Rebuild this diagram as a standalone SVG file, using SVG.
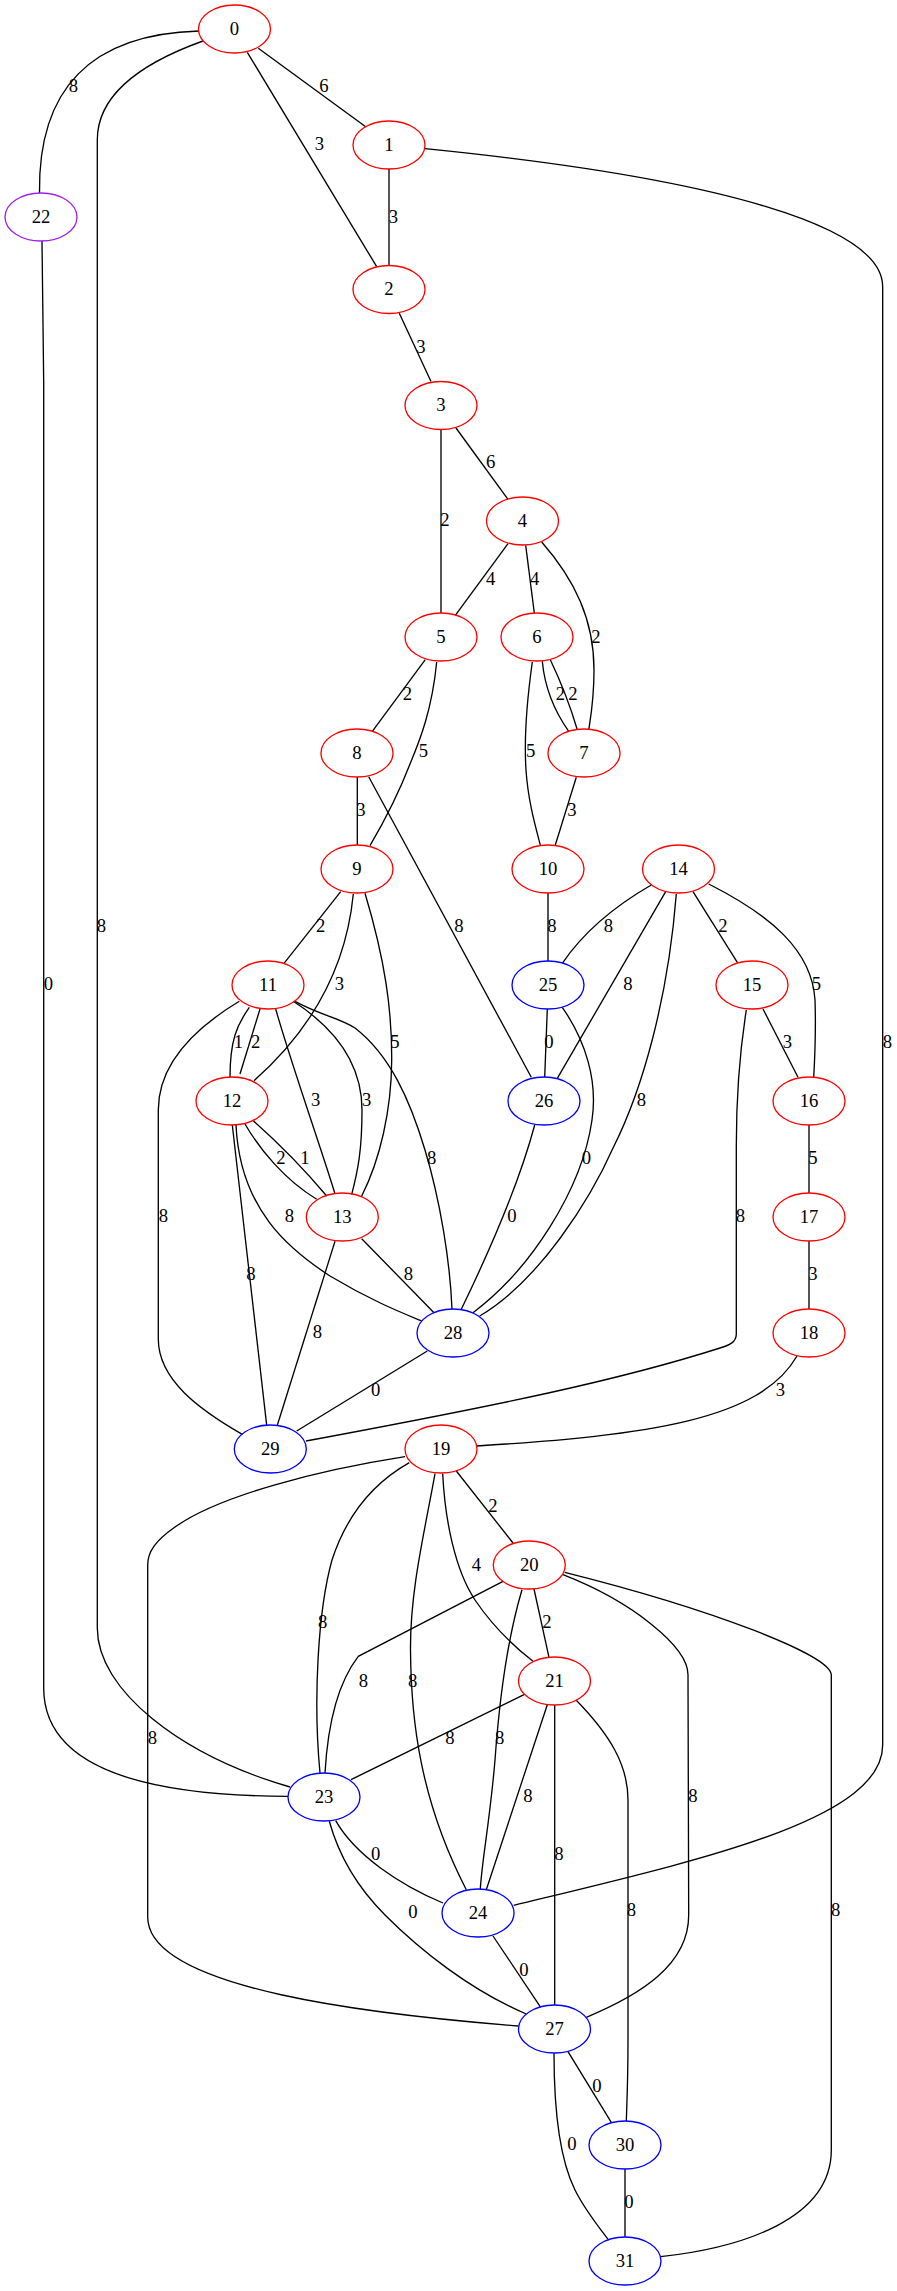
<svg xmlns="http://www.w3.org/2000/svg" width="897" height="2291" viewBox="0 0 897 2291">
<style>
  .node ellipse { fill: none; stroke-width: 1.33; }
  .red ellipse { stroke: #ff0000; }
  .blue ellipse { stroke: #0000ff; }
  .purple ellipse { stroke: #a020f0; }
  text { font-family: "Liberation Serif", "Times New Roman", serif; font-size: 18.67px; text-anchor: middle; fill: #000; }
  #edges path { fill: none; stroke: #000; stroke-width: 1.33; }
</style>
<rect width="897" height="2291" fill="#fff"/>

<g id="edges">
  <g id="e0_22"><path d="M199,31 C90,34 38,90 39.5,193"/><text x="73.3" y="92">8</text></g>
  <g id="e0_1"><path d="M258.3,48.3 L365.7,126.7"/><text x="324" y="92">6</text></g>
  <g id="e0_2"><path d="M247.3,52.3 L376.7,266.7"/><text x="319.3" y="150">3</text></g>
  <g id="e0_23"><path d="M203,41 C150,60 97.3,90 97.3,140 L97.3,1628 C97.3,1690 180,1755 290,1787"/><text x="101.5" y="932">8</text></g>
  <g id="e1_2"><path d="M389,169 L389,265"/><text x="393.3" y="222.7">3</text></g>
  <g id="e1_24"><path d="M425,148.7 C722.5,178.5 882.7,226.8 882.7,286.7 L882.7,1745 C882.7,1820 700,1860 513.7,1905.3"/><text x="887.3" y="1047.7">8</text></g>
  <g id="e2_3"><path d="M399.3,313.3 L431,381.5"/><text x="421" y="352.7">3</text></g>
  <g id="e3_4"><path d="M456,428 L508,499.3"/><text x="490.7" y="468">6</text></g>
  <g id="e3_5"><path d="M441,429 L441,613"/><text x="445" y="526.3">2</text></g>
  <g id="e4_5"><path d="M508,543.7 L455.3,615.3"/><text x="490.7" y="584.7">4</text></g>
  <g id="e4_6"><path d="M525.7,545.3 L534.3,613"/><text x="534.7" y="584.7">4</text></g>
  <g id="e4_7"><path d="M541.7,542 C575,580 594,620 594,670 C594,700 591,715 588.7,730"/><text x="596" y="643">2</text></g>
  <g id="e5_8"><path d="M425.3,659.7 L372.3,731.3"/><text x="407.3" y="700.3">2</text></g>
  <g id="e5_9"><path d="M436.7,662 C432,710 420,740 410,764 C400,790 385,820 370,845.7"/><text x="423.3" y="757.3">5</text></g>
  <g id="e6_7a"><path d="M542.3,661.3 C545,690 555,712 568.7,731.3"/><text x="560.3" y="700.3">2</text></g>
  <g id="e6_7b"><path d="M550.3,659.7 C560,680 570,705 577.3,729.7"/><text x="573" y="700.3">2</text></g>
  <g id="e6_10"><path d="M532.3,662 C527,700 524,740 526,770 C528,800 535,825 540.3,845"/><text x="530.7" y="757.3">5</text></g>
  <g id="e7_10"><path d="M576.3,777.3 L555.3,845"/><text x="572" y="816">3</text></g>
  <g id="e8_9"><path d="M357.3,777 L357.3,845"/><text x="361" y="816">3</text></g>
  <g id="e8_26"><path d="M368.7,776.7 L531.3,1077.3"/><text x="459" y="932.3">8</text></g>
  <g id="e9_11"><path d="M340.7,891.7 L284,963.3"/><text x="320.7" y="932.3">2</text></g>
  <g id="e9_12"><path d="M353.3,894 C345,980 300,1040 254,1080.7"/><text x="339.3" y="990">3</text></g>
  <g id="e9_13"><path d="M365,893.3 C385,960 392,1010 391.7,1060 C391.5,1110 380,1160 361.7,1196"/><text x="395" y="1047.7">5</text></g>
  <g id="e10_25"><path d="M548,893 L548,961"/><text x="552" y="932.3">8</text></g>
  <g id="e14_25"><path d="M651.3,885 C620,903 585,930 562.3,963.3"/><text x="608.3" y="932.3">8</text></g>
  <g id="e14_26"><path d="M665.7,891.7 L557.3,1078.3"/><text x="628" y="990">8</text></g>
  <g id="e14_28"><path d="M676.3,894 C668,1000 642,1090 614,1146 C590,1200 540,1280 479.7,1316"/><text x="641.3" y="1106">8</text></g>
  <g id="e14_15"><path d="M693,891.7 L737.3,962.3"/><text x="723" y="932.3">2</text></g>
  <g id="e14_16"><path d="M708.7,884 C770,915 812,950 815,1000 C816,1030 815,1055 813.7,1077.3"/><text x="816.3" y="990">5</text></g>
  <g id="e15_16"><path d="M763,1009 L798,1077.3"/><text x="787.3" y="1047.7">3</text></g>
  <g id="e15_29"><path d="M746.3,1010 C740,1050 736.3,1100 736.3,1146 L736.3,1334 C736.3,1342 730,1345 720,1348 C620,1380 500,1405 306,1441"/><text x="740.3" y="1222">8</text></g>
  <g id="e16_17"><path d="M809,1125 L809,1193"/><text x="813" y="1164.3">5</text></g>
  <g id="e17_18"><path d="M809,1241 L809,1309"/><text x="813" y="1279.7">3</text></g>
  <g id="e18_19"><path d="M797,1356 C760,1420 650,1435 477,1446"/><text x="780.3" y="1396.3">3</text></g>
  <g id="e11_12a"><path d="M249.3,1007.3 C237,1025 230,1040 230,1077.3"/><text x="238.3" y="1048.3">1</text></g>
  <g id="e11_12b"><path d="M260,1009 L240,1074"/><text x="255.7" y="1048.3">2</text></g>
  <g id="e11_13a"><path d="M275.7,1009 C290,1060 325,1160 335,1194"/><text x="315.7" y="1106">3</text></g>
  <g id="e11_13b"><path d="M293.3,1001.3 C330,1025 362,1060 362,1110 C362,1150 358,1170 351.7,1194.3"/><text x="366.7" y="1106">3</text></g>
  <g id="e11_28"><path d="M295,1001.3 C320,1015 340,1018 355,1028 C390,1055 410,1100 425,1150 C440,1200 450,1260 452,1309.3"/><text x="431.7" y="1164.3">8</text></g>
  <g id="e11_29"><path d="M239.3,1001.3 C200,1025 158.3,1060 158.3,1110 L158.3,1339 C158.3,1380 200,1410 242.3,1434.3"/><text x="163.3" y="1222">8</text></g>
  <g id="e12_29"><path d="M232.3,1125 L266.7,1425.3"/><text x="251" y="1279.7">8</text></g>
  <g id="e12_28"><path d="M236,1125 C240,1210 290,1250 330,1276 C370,1300 400,1312 421.7,1321"/><text x="289.3" y="1222">8</text></g>
  <g id="e12_13a"><path d="M245,1124 C260,1150 285,1180 316.7,1199.3"/><text x="281" y="1164.3">2</text></g>
  <g id="e12_13b"><path d="M253.3,1120.7 C275,1140 305,1170 326.7,1196"/><text x="305" y="1164.3">1</text></g>
  <g id="e13_28"><path d="M361.7,1238.7 L434,1312.7"/><text x="408.3" y="1279.7">8</text></g>
  <g id="e13_29"><path d="M335,1241.3 L277.3,1425.3"/><text x="317.3" y="1338">8</text></g>
  <g id="e28_29"><path d="M427.3,1351 L296.7,1431"/><text x="375.7" y="1396.3">0</text></g>
  <g id="e25_26"><path d="M547.3,1009 L544.7,1077.3"/><text x="549" y="1047.7">0</text></g>
  <g id="e25_28"><path d="M562.3,1007.3 C585,1040 598,1080 592,1120 C582,1190 530,1270 473,1312.7"/><text x="586.3" y="1164.3">0</text></g>
  <g id="e26_28"><path d="M534.7,1125 C520,1180 490,1250 461.3,1309.3"/><text x="512" y="1222">0</text></g>
  <g id="e22_23"><path d="M42,241 L43.7,382 L43.7,1688 C43.7,1770 150,1796 288,1796.3"/><text x="48.3" y="990">0</text></g>
  <g id="e19_20"><path d="M456.3,1471 L513,1543"/><text x="493" y="1512">2</text></g>
  <g id="e19_21"><path d="M442.7,1473.7 C445,1520 455,1570 475,1600 C492,1625 512,1645 533,1661.3"/><text x="476.3" y="1570.7">4</text></g>
  <g id="e19_23"><path d="M409.3,1462.7 C370,1485 345,1520 332,1560 C318,1610 313,1700 320,1773"/><text x="322.7" y="1628.3">8</text></g>
  <g id="e19_24"><path d="M435,1473.7 C425,1530 410,1590 410.5,1650 C411,1720 420,1800 466.3,1889.7"/><text x="412.7" y="1686.7">8</text></g>
  <g id="e19_27"><path d="M405,1456.7 C320,1470 220,1495 175,1527 C155,1541 147.7,1552 147.7,1565 L147.7,1917 C147.7,1990 380,2015 518.3,2026"/><text x="152.3" y="1744">8</text></g>
  <g id="e20_21"><path d="M534,1589 L549,1657.3"/><text x="547" y="1628.3">2</text></g>
  <g id="e20_23"><path d="M503,1581.3 L358.3,1656.3 C340,1680 328,1720 325,1773"/><text x="363.3" y="1686.7">8</text></g>
  <g id="e20_24"><path d="M522,1589.7 C510,1630 500,1690 495,1760 C490,1820 482,1860 480.3,1889"/><text x="499.7" y="1744">8</text></g>
  <g id="e20_27"><path d="M563,1574.7 C631.8,1601.5 688,1646.5 688,1674.7 L688.7,1915 C688.7,1965 640,1995 586.3,2017.3"/><text x="693" y="1802.3">8</text></g>
  <g id="e20_31"><path d="M564.7,1572.3 C711.3,1609 831.3,1655 831.3,1675 L831.3,2150 C831.3,2220 740,2248 660.7,2256.7"/><text x="835.7" y="1916">8</text></g>
  <g id="e21_23"><path d="M524,1694.7 L351,1779.7"/><text x="450" y="1744">8</text></g>
  <g id="e21_24"><path d="M547.3,1704.7 L486.3,1889.7"/><text x="528" y="1802.3">8</text></g>
  <g id="e21_27"><path d="M554.7,1705 L554.7,2005"/><text x="559" y="1860">8</text></g>
  <g id="e21_30"><path d="M576.3,1700.3 C610,1735 628,1765 628,1800 L628,2040 C628,2080 627,2100 626.3,2121"/><text x="631.3" y="1916">8</text></g>
  <g id="e23_24"><path d="M335.7,1820.7 C355,1855 400,1885 443,1903"/><text x="375.7" y="1860">0</text></g>
  <g id="e23_27"><path d="M329.3,1821.3 C340,1860 360,1890 385,1915 C420,1950 470,1990 526.3,2014"/><text x="413" y="1918">0</text></g>
  <g id="e24_27"><path d="M493,1936 L540.7,2007.3"/><text x="524" y="1976">0</text></g>
  <g id="e27_30"><path d="M568,2051.7 L611.3,2122.3"/><text x="597" y="2092">0</text></g>
  <g id="e27_31"><path d="M554,2053.3 C554,2110 560,2160 575,2190 C585,2210 597,2225 608.7,2240"/><text x="572" y="2150.3">0</text></g>
  <g id="e30_31"><path d="M625,2169 L625,2237"/><text x="629" y="2208.3">0</text></g>
</g>

<g id="node0" class="node red"><ellipse cx="234.5" cy="29" rx="36" ry="24"/><text x="234.5" y="34.6">0</text></g>
<g id="node1" class="node red"><ellipse cx="389" cy="145" rx="36" ry="24"/><text x="389" y="150.6">1</text></g>
<g id="node22" class="node purple"><ellipse cx="41" cy="217" rx="36" ry="24"/><text x="41" y="222.6">22</text></g>
<g id="node2" class="node red"><ellipse cx="389" cy="289.5" rx="36" ry="24"/><text x="389" y="295.1">2</text></g>
<g id="node3" class="node red"><ellipse cx="441" cy="405.5" rx="36" ry="24"/><text x="441" y="411.1">3</text></g>
<g id="node4" class="node red"><ellipse cx="522.5" cy="521" rx="36" ry="24"/><text x="522.5" y="526.6">4</text></g>
<g id="node5" class="node red"><ellipse cx="441" cy="637" rx="36" ry="24"/><text x="441" y="642.6">5</text></g>
<g id="node6" class="node red"><ellipse cx="537" cy="637" rx="36" ry="24"/><text x="537" y="642.6">6</text></g>
<g id="node7" class="node red"><ellipse cx="584" cy="753" rx="36" ry="24"/><text x="584" y="758.6">7</text></g>
<g id="node8" class="node red"><ellipse cx="357" cy="753" rx="36" ry="24"/><text x="357" y="758.6">8</text></g>
<g id="node9" class="node red"><ellipse cx="357" cy="869" rx="36" ry="24"/><text x="357" y="874.6">9</text></g>
<g id="node10" class="node red"><ellipse cx="548" cy="869" rx="36" ry="24"/><text x="548" y="874.6">10</text></g>
<g id="node14" class="node red"><ellipse cx="678.5" cy="869" rx="36" ry="24"/><text x="678.5" y="874.6">14</text></g>
<g id="node11" class="node red"><ellipse cx="268" cy="985" rx="36" ry="24"/><text x="268" y="990.6">11</text></g>
<g id="node25" class="node blue"><ellipse cx="548" cy="985" rx="36" ry="24"/><text x="548" y="990.6">25</text></g>
<g id="node15" class="node red"><ellipse cx="752" cy="985" rx="36" ry="24"/><text x="752" y="990.6">15</text></g>
<g id="node12" class="node red"><ellipse cx="232" cy="1101" rx="36" ry="24"/><text x="232" y="1106.6">12</text></g>
<g id="node26" class="node blue"><ellipse cx="544" cy="1101" rx="36" ry="24"/><text x="544" y="1106.6">26</text></g>
<g id="node16" class="node red"><ellipse cx="809" cy="1101" rx="36" ry="24"/><text x="809" y="1106.6">16</text></g>
<g id="node13" class="node red"><ellipse cx="342.3" cy="1217" rx="36" ry="24"/><text x="342.3" y="1222.6">13</text></g>
<g id="node17" class="node red"><ellipse cx="809" cy="1217" rx="36" ry="24"/><text x="809" y="1222.6">17</text></g>
<g id="node28" class="node blue"><ellipse cx="453" cy="1333" rx="36" ry="24"/><text x="453" y="1338.6">28</text></g>
<g id="node18" class="node red"><ellipse cx="809" cy="1333" rx="36" ry="24"/><text x="809" y="1338.6">18</text></g>
<g id="node29" class="node blue"><ellipse cx="270.3" cy="1449" rx="36" ry="24"/><text x="270.3" y="1454.6">29</text></g>
<g id="node19" class="node red"><ellipse cx="441" cy="1449" rx="36" ry="24"/><text x="441" y="1454.6">19</text></g>
<g id="node20" class="node red"><ellipse cx="529.3" cy="1565" rx="36" ry="24"/><text x="529.3" y="1570.6">20</text></g>
<g id="node21" class="node red"><ellipse cx="554.5" cy="1681" rx="36" ry="24"/><text x="554.5" y="1686.6">21</text></g>
<g id="node23" class="node blue"><ellipse cx="324" cy="1797" rx="36" ry="24"/><text x="324" y="1802.6">23</text></g>
<g id="node24" class="node blue"><ellipse cx="478" cy="1913" rx="36" ry="24"/><text x="478" y="1918.6">24</text></g>
<g id="node27" class="node blue"><ellipse cx="554.5" cy="2029" rx="36" ry="24"/><text x="554.5" y="2034.6">27</text></g>
<g id="node30" class="node blue"><ellipse cx="625" cy="2145" rx="36" ry="24"/><text x="625" y="2150.6">30</text></g>
<g id="node31" class="node blue"><ellipse cx="625" cy="2261" rx="36" ry="24"/><text x="625" y="2266.6">31</text></g>
</svg>
